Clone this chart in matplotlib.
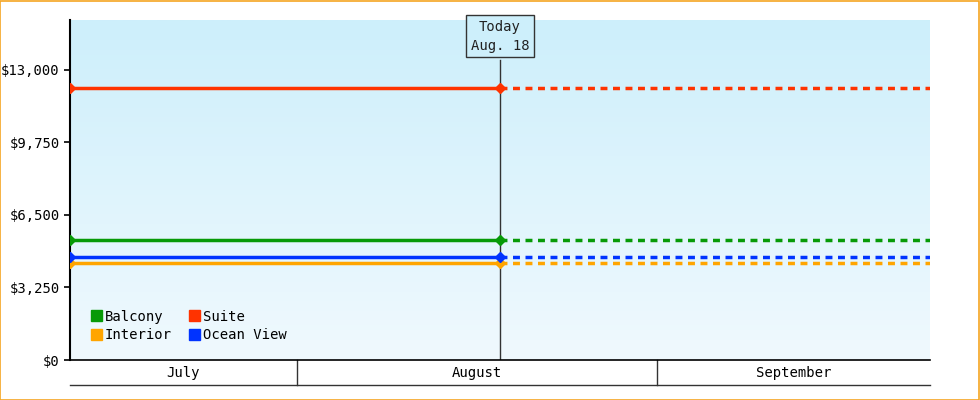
import matplotlib
matplotlib.use("Agg")
import matplotlib.pyplot as plt
import matplotlib.dates as mdates
import numpy as np
from matplotlib.patches import Rectangle

plt.rcParams['font.family'] = ['DejaVu Sans Mono']

series = ["Balcony", "Suite", "Interior", "Ocean View"]
prices = [5400, 12200, 4350, 4600]
colors = ["#079a07", "#ff3300", "#ffa500", "#0033ff"]

start = mdates.datestr2num("2024-07-12 12:00")
today = mdates.datestr2num("2024-08-18 12:00")
end = mdates.datestr2num("2024-09-24 12:00")
months = ["July", "August", "September"]
month_edges = [start, mdates.datestr2num("2024-08-01"), mdates.datestr2num("2024-09-01"), end]
yticks = [0, 3250, 6500, 9750, 13000]
ymax = 15240

fig = plt.figure(figsize=(9.8, 4), dpi=100)
fig.patches.append(Rectangle((0.0005, 0.001), 0.998, 0.997, transform=fig.transFigure,
                             fill=False, edgecolor="#f5a623", linewidth=1.2))
ax = fig.add_axes([70/980, 40/400, 860/980, 340/400])

# gradient background
grad = np.linspace(0, 1, 256).reshape(-1, 1)
cmap = matplotlib.colors.LinearSegmentedColormap.from_list("bg", ["#f0f9fe", "#cdeffb"])
ax.imshow(grad, extent=[start, end, 0, ymax], origin="lower", aspect="auto", cmap=cmap, zorder=0)

for name, p, c in zip(series, prices, colors):
    ax.plot([start, today], [p, p], color=c, lw=2.5, marker="D", ms=5, zorder=3)
    ax.plot([today, end], [p, p], color=c, lw=2.5, ls=(0, (2, 1.6)), zorder=3)

box_bottom = 13450
ax.axvline(today, ymax=box_bottom / ymax, color="#333333", lw=1, zorder=2)
ax.text(today, box_bottom + 330, "Today\nAug. 18", ha="center", va="bottom", fontsize=10,
        color="#222222", linespacing=1.4,
        bbox=dict(boxstyle="square,pad=0.35", fc="#cdeffb", ec="#333333", lw=1), zorder=5)

ax.set_xlim(start, end)
ax.set_ylim(0, ymax)
ax.set_yticks(yticks)
ax.set_yticklabels([f"${v:,}" for v in yticks], fontsize=10)
ax.set_xticks([])
for s in ["top", "right"]:
    ax.spines[s].set_visible(False)
ax.spines["left"].set_linewidth(1.5)
ax.spines["bottom"].set_linewidth(1.2)
ax.tick_params(axis="y", length=4, width=1.2)

# month band under the axis
trans = ax.get_xaxis_transform()
ax.plot([start, end], [-25/340, -25/340], color="#333333", lw=1, transform=trans, clip_on=False)
for e in month_edges[1:-1]:
    ax.plot([e, e], [0, -25/340], color="#333333", lw=1, transform=trans, clip_on=False)
for m, a, b in zip(months, month_edges[:-1], month_edges[1:]):
    ax.text((a + b) / 2, -12.5/340, m, ha="center", va="center", fontsize=10, transform=trans)

# square legend handles, column-major order
order = [0, 2, 1, 3]
handles = [Rectangle((0, 0), 1, 1, color=colors[i]) for i in order]
ax.legend(handles, [series[i] for i in order], ncol=2, loc="lower left",
          bbox_to_anchor=(0.01, 0.015), frameon=False, fontsize=10, handlelength=0.8,
          handleheight=0.8, handletextpad=0.2, columnspacing=1.2, labelspacing=0.35)

fig.savefig("out.png", dpi=100)
